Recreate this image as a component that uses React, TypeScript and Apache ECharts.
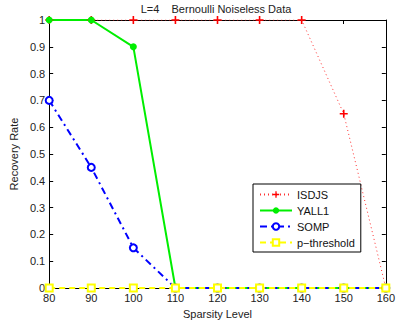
import React, { useEffect, useRef } from "react";
import * as echarts from "echarts";

const sparsity = [80, 90, 100, 110, 120, 130, 140, 150, 160];
const isdjs = [1, 1, 1, 1, 1, 1, 1, 0.65, 0];
const yall1 = [1, 1, 0.9, 0, 0, 0, 0, 0, 0];
const somp = [0.7, 0.45, 0.15, 0, 0, 0, 0, 0, 0];
const pthreshold = [0, 0, 0, 0, 0, 0, 0, 0, 0];

const PLUS = "path://M4,0H6V4H10V6H6V10H4V6H0V4H4Z";
const FONT = "Liberation Sans";

const pairs = (ys: number[]) => sparsity.map((x, i) => [x, ys[i]]);

export default function App() {
  const ref = useRef<HTMLDivElement>(null);
  useEffect(() => {
    if (!ref.current) return;
    const chart = echarts.init(ref.current, undefined, { renderer: "svg" });
    const baseX = {
      type: "value" as const,
      min: 80,
      max: 160,
      interval: 10,
      axisLine: { show: true, onZero: false, lineStyle: { color: "#000", width: 1 } },
      axisTick: { show: true, inside: true, length: 4, lineStyle: { color: "#000" } },
      splitLine: { show: false },
    };
    const baseY = {
      type: "value" as const,
      min: 0,
      max: 1,
      interval: 0.1,
      axisLine: { show: true, onZero: false, lineStyle: { color: "#000", width: 1 } },
      axisTick: { show: true, inside: true, length: 4, lineStyle: { color: "#000" } },
      splitLine: { show: false },
    };
    chart.setOption({
      animation: false,
      backgroundColor: "#fff",
      textStyle: { fontFamily: FONT },
      title: {
        text: "L=4    Bernoulli Noiseless Data",
        left: 216,
        textAlign: "center",
        top: 3,
        padding: 0,
        textStyle: { fontFamily: FONT, fontSize: 11, fontWeight: "normal", color: "#222" },
      },
      grid: { left: 43, right: 8, top: 20, bottom: 35, containLabel: false },
      xAxis: [
        {
          ...baseX,
          position: "bottom",
          name: "Sparsity Level",
          nameLocation: "middle",
          nameGap: 20,
          nameTextStyle: { fontFamily: FONT, fontSize: 11, color: "#222" },
          axisLabel: { fontFamily: FONT, fontSize: 11, color: "#222", margin: 4 },
        },
        { ...baseX, position: "top", axisLabel: { show: false } },
      ],
      yAxis: [
        {
          ...baseY,
          position: "left",
          name: "Recovery Rate",
          nameLocation: "middle",
          nameGap: 26,
          nameTextStyle: { fontFamily: FONT, fontSize: 11, color: "#222" },
          axisLabel: {
            fontFamily: FONT,
            fontSize: 11,
            color: "#222",
            margin: 4,
            formatter: (v: number) => String(Math.round(v * 10) / 10),
          },
        },
        { ...baseY, position: "right", axisLabel: { show: false } },
      ],
      legend: {
        orient: "vertical",
        left: 253,
        top: 184,
        itemWidth: 32,
        itemHeight: 8,
        itemGap: 5,
        padding: [5, 6, 4, 6],
        borderColor: "#000",
        borderWidth: 1,
        backgroundColor: "#fff",
        textStyle: { fontFamily: FONT, fontSize: 11, color: "#111" },
        data: ["ISDJS", "YALL1", "SOMP", "p\u2212threshold"],
      },
      series: [
        {
          name: "ISDJS",
          type: "line",
          data: pairs(isdjs),
          symbol: PLUS,
          symbolSize: 8,
          itemStyle: { color: "#ff0000" },
          lineStyle: { color: "#ff3030", width: 1, type: [1, 3] },
        },
        {
          name: "YALL1",
          type: "line",
          data: pairs(yall1),
          symbol: "circle",
          symbolSize: 7,
          itemStyle: { color: "#00ee00" },
          lineStyle: { color: "#00ee00", width: 2, type: "solid" },
        },
        {
          name: "SOMP",
          type: "line",
          data: pairs(somp),
          symbol: "emptyCircle",
          symbolSize: 7,
          itemStyle: { color: "#0000ff", borderWidth: 2 },
          lineStyle: { color: "#0000ff", width: 2, type: [7, 4, 2, 4] },
        },
        {
          name: "p\u2212threshold",
          type: "line",
          data: pairs(pthreshold),
          symbol: "emptyRect",
          symbolSize: 7,
          itemStyle: { color: "#ffff00", borderWidth: 2 },
          lineStyle: { color: "#ffff00", width: 2, type: [6, 4] },
        },
      ],
    });
    return () => chart.dispose();
  }, []);
  return <div ref={ref} style={{ width: 398, height: 324, position: "absolute", left: 0, top: 0 }} />;
}
